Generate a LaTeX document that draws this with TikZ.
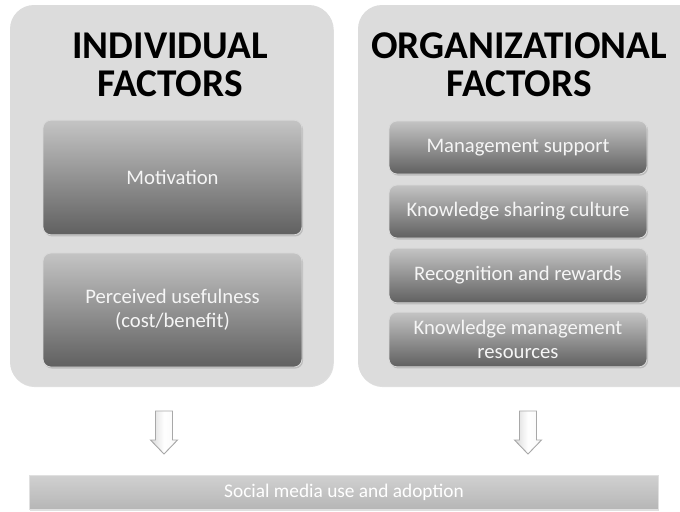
\documentclass[tikz,border=0pt]{standalone}
\usepackage{fontspec}
\setmainfont{Carlito}
\usetikzlibrary{shadows}
\definecolor{panelgray}{HTML}{DCDCDC}
\definecolor{boxtop}{HTML}{C4C4C4}
\definecolor{boxbot}{HTML}{606060}
\definecolor{arrowline}{HTML}{A8A8A8}
\definecolor{bartop}{HTML}{D0D0D0}
\definecolor{barbot}{HTML}{B6B6B6}
\tikzset{
  panel/.style={fill=panelgray, rounded corners=18pt, draw=none,
    drop shadow={shadow xshift=0.6pt, shadow yshift=-0.8pt, opacity=0.25}},
  title/.style={font=\bfseries\fontsize{29.5}{28.5}\selectfont, align=center, text=black},
  factorbox/.style={draw=white!85!black, line width=0.6pt, rounded corners=6pt,
    top color=boxtop, bottom color=boxbot, text=white!96!black,
    font=\fontsize{15.5}{18}\selectfont, align=center, inner sep=2pt,
    drop shadow={shadow xshift=0.8pt, shadow yshift=-1.2pt, opacity=0.35}},
  flowarrow/.style={draw=arrowline, line width=0.7pt, left color=white!85!black,
    right color=white!97!black, middle color=white, line join=miter},
  barbox/.style={draw=white!88!black, line width=1pt, top color=bartop, bottom color=barbot,
    text=white, font=\fontsize{14.5}{16}\selectfont, inner sep=0pt,
    drop shadow={shadow xshift=0.6pt, shadow yshift=-0.8pt, opacity=0.25}}
}
\begin{document}
\begin{tikzpicture}[x=0.75pt,y=-0.75pt]
\useasboundingbox (0,0) rectangle (680,511);
% panels
\path[panel] (10,5) rectangle (333,386);
\path[panel] (358,5) rectangle (704,386);
\node[title] (t1) at (170,65) {INDIVIDUAL\\FACTORS};
\node[title] (t2) at (519,65) {ORGANIZATIONAL\\FACTORS};
% left boxes
\node[factorbox, minimum width=194.25pt, minimum height=86pt] (mot) at (172.5,177.5) {Motivation};
\node[factorbox, minimum width=194.25pt, minimum height=85.5pt] (pu) at (172.5,310) {Perceived usefulness\\(cost/benefit)};
% right boxes
\node[factorbox, minimum width=193.5pt, minimum height=39.75pt] (ms) at (518,147.5) {Management support};
\node[factorbox, minimum width=193.5pt, minimum height=39.75pt] (ksc) at (518,211.5) {Knowledge sharing culture};
\node[factorbox, minimum width=193.5pt, minimum height=41pt] (rr) at (518,275.5) {Recognition and rewards};
\node[factorbox, minimum width=193.5pt, minimum height=41pt] (kmr) at (518,339.5) {Knowledge management\\resources};
% bottom bar
\node[barbox, minimum width=471.75pt, minimum height=25.5pt] (bar) at (344,492.5) {Social media use and adoption};
% arrows
\coordinate (a1) at (164,411);
\coordinate (a2) at (528,411);
\path[flowarrow] (a1) ++(-8.5,0) -- ++(17,0) -- ++(0,29) -- ++(5,0) -- ++(-13.5,14) -- ++(-13.5,-14) -- ++(5,0) -- cycle;
\path[flowarrow] (a2) ++(-8.5,0) -- ++(17,0) -- ++(0,29) -- ++(5,0) -- ++(-13.5,14) -- ++(-13.5,-14) -- ++(5,0) -- cycle;
\end{tikzpicture}
\end{document}
